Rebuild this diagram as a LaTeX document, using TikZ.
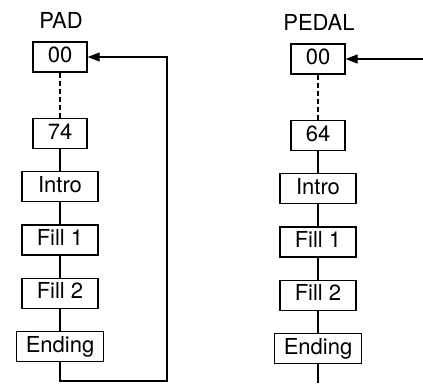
\documentclass[tikz,border=0pt]{standalone}
\usepackage{fontspec}
\setmainfont{TeX Gyre Heros}
\usetikzlibrary{positioning,arrows.meta}

\begin{document}
\begin{tikzpicture}[
  x=1pt, y=-1pt,
  node distance=22pt,
  stagebox/.style={draw, line width=1.3pt, minimum height=30pt, minimum width=54pt,
                   inner xsep=9pt, inner ysep=0pt, text height=16pt, text depth=4.5pt,
                   font=\fontsize{22}{24}\selectfont},
  widebox/.style={stagebox, minimum width=76pt},
  title/.style={font=\fontsize{22}{24}\selectfont},
  link/.style={line width=1.3pt},
  dashlink/.style={line width=1.3pt, dash pattern=on 5pt off 3pt},
  loopback/.style={line width=1.3pt, -{Triangle[length=12pt,width=9pt]}}
]
  \useasboundingbox (0,0) rectangle (423,383);

  % PAD column
  \node[title] (padlabel) at (61,20) {PAD};
  \node[stagebox] (pad00) at (60,57) {00};
  \node[stagebox, below=45pt of pad00] (pad74) {74};
  \node[widebox, below=of pad74] (padintro) {Intro};
  \node[widebox, below=of padintro] (padfilla) {Fill 1};
  \node[widebox, below=of padfilla] (padfillb) {Fill 2};
  \node[stagebox, below=of padfillb] (padend) {Ending};

  % PEDAL column
  \node[title] (pedallabel) at (319,22) {PEDAL};
  \node[stagebox] (pedal00) at (318,59) {00};
  \node[stagebox, below=45pt of pedal00] (pedal64) {64};
  \node[widebox, below=of pedal64] (pedalintro) {Intro};
  \node[widebox, below=of pedalintro] (pedalfilla) {Fill 1};
  \node[widebox, below=of pedalfilla] (pedalfillb) {Fill 2};
  \node[stagebox, below=of pedalfillb] (pedalend) {Ending};

  % PAD chain
  \draw[dashlink] (pad00) -- (pad74);
  \draw[link] (pad74) -- (padintro);
  \draw[link] (padintro) -- (padfilla);
  \draw[link] (padfilla) -- (padfillb);
  \draw[link] (padfillb) -- (padend);
  % PAD return path
  \coordinate (padturn) at (167,381);
  \draw[loopback] (padend.south) |- (padturn) |- (pad00.east);

  % PEDAL chain
  \draw[dashlink] (pedal00) -- (pedal64);
  \draw[link] (pedal64) -- (pedalintro);
  \draw[link] (pedalintro) -- (pedalfilla);
  \draw[link] (pedalfilla) -- (pedalfillb);
  \draw[link] (pedalfillb) -- (pedalend);
  % PEDAL open ends
  \coordinate (pedalin) at (423,59);
  \coordinate (pedalout) at (pedalend.south |- 0,383);
  \draw[loopback] (pedalin) -- (pedal00.east);
  \draw[link] (pedalend.south) -- (pedalout);
\end{tikzpicture}
\end{document}
